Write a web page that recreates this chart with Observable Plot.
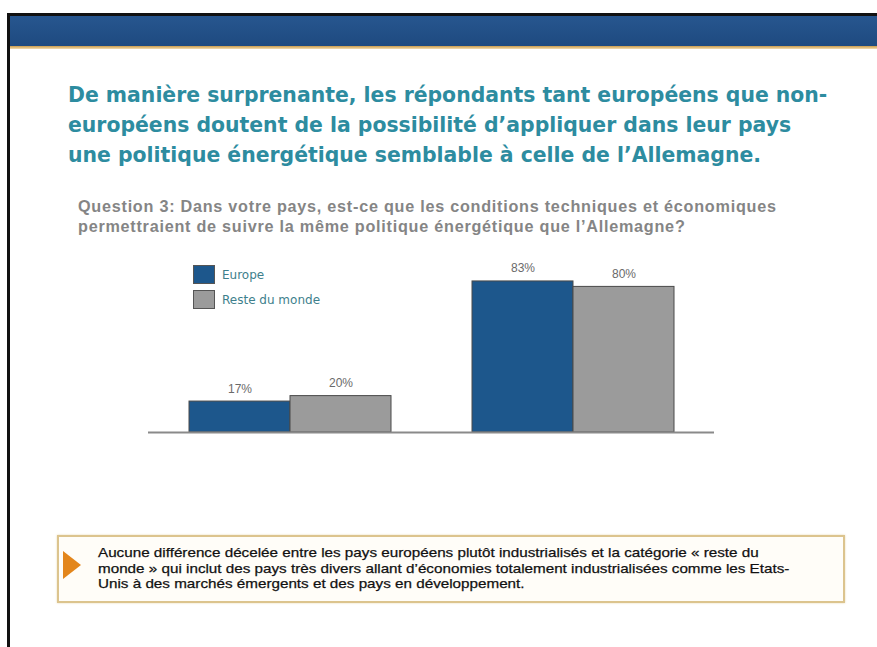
<!DOCTYPE html>
<html><head><meta charset="utf-8">
<script src="https://cdn.jsdelivr.net/npm/d3@7"></script>
<script src="https://cdn.jsdelivr.net/npm/@observablehq/plot@0.6"></script>
<style>
html,body{margin:0;padding:0;background:#fff;width:877px;height:647px;overflow:hidden;position:relative;font-family:"Liberation Sans",Arial,sans-serif;}
#frame{position:absolute;left:7px;top:13px;width:900px;height:700px;border-left:3px solid #111;border-top:3px solid #111;}
#band{position:absolute;left:10px;top:16px;width:867px;height:30px;background:linear-gradient(#27568f,#1e4a80);}
#goldline{position:absolute;left:10px;top:46px;width:867px;height:3px;background:linear-gradient(#c99a4a,#f3dcb0);}
#title{position:absolute;left:68px;top:80px;white-space:nowrap;font-family:"DejaVu Sans",Verdana,sans-serif;font-weight:bold;font-size:20.4px;line-height:30px;color:#2d8ca0;}
#question{position:absolute;left:78px;top:196px;white-space:nowrap;font-family:"Liberation Sans",Arial,sans-serif;font-weight:bold;font-size:16.2px;letter-spacing:0.75px;line-height:20px;color:#858585;}
#chart{position:absolute;left:148px;top:250px;}
#legend{position:absolute;left:193px;top:262px;font-family:"DejaVu Sans",Verdana,sans-serif;font-size:12px;color:#3e7f8c;}
.li{display:flex;align-items:center;height:25px;}
.sw{width:22px;height:19px;box-sizing:border-box;border:1px solid #555;margin-right:7px;}
#callout{position:absolute;left:57px;top:535px;width:788px;height:68px;box-sizing:border-box;border:2px solid #dcc48e;box-shadow:0 0 2px #e8d8b0;background:#fffdf8;}
#tri{position:absolute;left:63px;top:551px;width:0;height:0;border-top:14px solid transparent;border-bottom:14px solid transparent;border-left:18px solid #e3861c;}
#ctext{position:absolute;left:98px;top:545px;white-space:nowrap;font-family:"Liberation Sans",Arial,sans-serif;font-size:13.6px;line-height:15.5px;color:#111;-webkit-text-stroke:0.25px #111;transform:scaleX(1.12);transform-origin:0 0;}
</style></head>
<body>
<div id="frame"></div>
<div id="band"></div>
<div id="goldline"></div>
<div id="title">De manière surprenante, les répondants tant européens que non-<br>européens doutent de la possibilité d’appliquer dans leur pays<br>une politique énergétique semblable à celle de l’Allemagne.</div>
<div id="question">Question 3: Dans votre pays, est-ce que les conditions techniques et économiques<br>permettraient de suivre la même politique énergétique que l’Allemagne?</div>
<div id="chart"></div>
<div id="legend"></div>
<div id="callout"></div>
<div id="tri"></div>
<div id="ctext">Aucune différence décelée entre les pays européens plutôt industrialisés et la catégorie « reste du<br>monde » qui inclut des pays très divers allant d’économies totalement industrialisées comme les Etats-<br>Unis à des marchés émergents et des pays en développement.</div>
<script>
const groups = ["Non", "Oui"];
const series = ["Europe", "Reste du monde"];
const europe = [17, 83];
const resteDuMonde = [20, 80];
const colors = ["#1d578c", "#9b9b9b"];

const data = [];
groups.forEach((g, i) => {
  data.push({group: g, series: series[0], value: europe[i]});
  data.push({group: g, series: series[1], value: resteDuMonde[i]});
});

const chart = Plot.plot({
  width: 566,
  height: 200,
  marginTop: 0,
  marginBottom: 18,
  marginLeft: 0,
  marginRight: 0,
  fx: {domain: groups, padding: 0, axis: null},
  x: {domain: series, paddingInner: 0, paddingOuter: 0.4, axis: null},
  y: {domain: [0, 100], axis: null},
  color: {domain: series, range: colors},
  marks: [
    Plot.barY(data, {fx: "group", x: "series", y: "value", fill: "series", stroke: "#4a4a4a", strokeWidth: 1, insetLeft: 0, insetRight: 0}),
    Plot.text(data, {fx: "group", x: "series", y: "value", text: d => d.value + "%", dy: -9, lineAnchor: "bottom", fill: "#6a6a6a", fontSize: 12, fontFamily: "Liberation Sans Narrow, Arial Narrow, sans-serif"}),
    Plot.ruleY([0], {stroke: "#8a8a8a", strokeWidth: 2})
  ]
});
document.getElementById("chart").appendChild(chart);

const legend = document.getElementById("legend");
series.forEach((s, i) => {
  const row = document.createElement("div");
  row.className = "li";
  const sw = document.createElement("div");
  sw.className = "sw";
  sw.style.background = colors[i];
  const t = document.createElement("span");
  t.textContent = s;
  row.appendChild(sw); row.appendChild(t);
  legend.appendChild(row);
});
</script>
</body></html>
